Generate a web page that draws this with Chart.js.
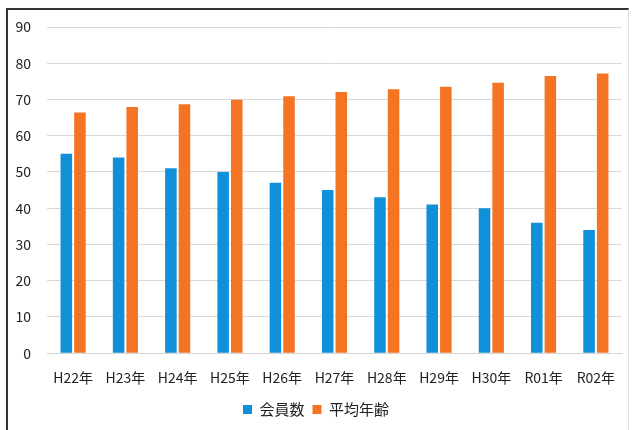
<!DOCTYPE html>
<html>
<head>
<meta charset="utf-8">
<script src="https://cdn.jsdelivr.net/npm/chart.js@4"></script>
<style>
  html, body { margin: 0; padding: 0; background: #fff; }
  #wrap { position: relative; width: 635px; height: 430px; overflow: hidden; }
  #frame {
    position: absolute; left: 6px; top: 8px; width: 620px; height: 440px;
    border-left: 2px solid #333; border-top: 2px solid #333; border-right: 1px solid #ddd;
  }
  canvas { position: absolute; left: 0; top: 0; }
</style>
</head>
<body>
<div id="wrap">
  <div id="frame"></div>
  <canvas id="chart" width="635" height="430"></canvas>
</div>
<script>
// categories and series
const years = ['H22年', 'H23年', 'H24年', 'H25年', 'H26年', 'H27年', 'H28年', 'H29年', 'H30年', 'R01年', 'R02年'];
const members = [55, 54, 51, 50, 47, 45, 43, 41, 40, 36, 34];
const avgAge = [66.4, 67.9, 68.7, 69.9, 70.9, 72.1, 72.8, 73.5, 74.6, 76.5, 77.2];

const family = '"Noto Sans CJK JP", "Noto Sans", sans-serif';

const chart = new Chart(document.getElementById('chart'), {
    type: 'bar',
    data: {
        labels: years,
        datasets: [{
            label: '会員数',
            data: members,
            backgroundColor: '#0f90d9',
            barPercentage: 0.85,
            categoryPercentage: 0.52
        }, {
            label: '平均年齢',
            data: avgAge,
            backgroundColor: '#f47424',
            barPercentage: 0.85,
            categoryPercentage: 0.52
        }]
    },
    options: {
        responsive: false,
        animation: false,
        layout: { padding: { left: 10, right: 13, top: 27, bottom: 3 } },
        plugins: {
            legend: {
                position: 'bottom',
                labels: { boxWidth: 9, boxHeight: 9, padding: 8, color: '#222', font: { family: family, size: 15 } }
            },
            tooltip: { enabled: false }
        },
        scales: {
            x: {
                grid: { display: false },
                border: { color: '#d4d4d4' },
                ticks: { color: '#222', font: { family: family, size: 14 }, padding: 8, maxRotation: 0 }
            },
            y: {
                min: 0,
                max: 90,
                afterFit: (s) => { s.width = 37; },
                grid: { color: '#d9d9d9', drawTicks: false },
                border: { display: false },
                ticks: { stepSize: 10, color: '#222', font: { family: family, size: 14 }, padding: 16 }
            }
        }
    }
});
</script>
</body>
</html>
